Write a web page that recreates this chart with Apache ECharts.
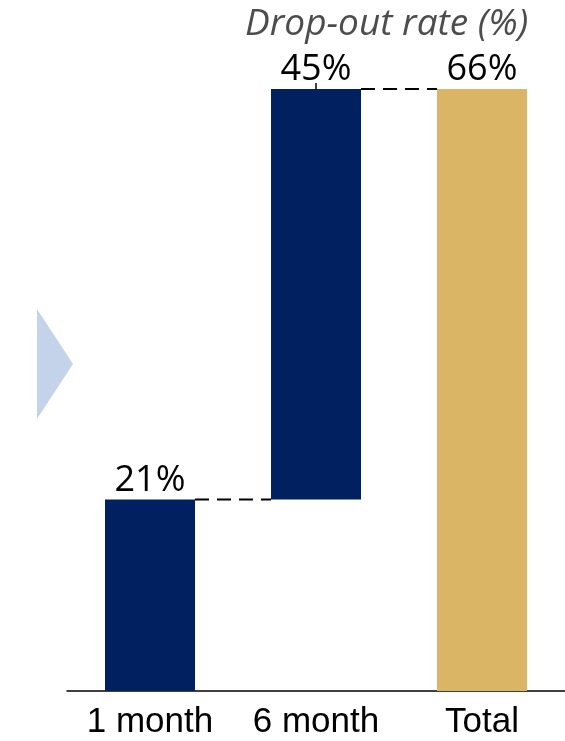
<!DOCTYPE html>
<html lang="en">
<head>
    <meta charset="UTF-8">
    <title>Drop-out rate</title>
    <script src="https://cdn.jsdelivr.net/npm/echarts@6/dist/echarts.min.js"></script>
</head>
<style type="text/css">
    body{
        margin:0;
    }
    #chart{
        width: 565px;
        height: 741px;
    }
</style>
<body>
    <div id="chart"></div>
</body>
<script type="text/javascript">
// waterfall data
var categories = ['1 month', '6 month', 'Total'];
var baseValues = [0, 21, 0];      // invisible offset
var stepValues = [21, 45, 66];    // visible bar height
var labelTexts = ['21%', '45%', '66%'];
var barColors = ['#002060', '#002060', '#dbb566'];
// connector lines: [from category index, level]
var connectors = [[0, 21], [1, 66]];

var BAR_W = 90;
var labelFont = '"Open Sans", "Noto Sans", sans-serif';

var option = {
    animation: false,
    title: {
        text: 'Drop-out rate (%)',
        left: 240,
        top: 1,
        textStyle: {
            fontFamily: labelFont,
            fontStyle: 'italic',
            fontWeight: 'normal',
            fontSize: 37,
            color: '#4d4d4d'
        }
    },
    grid: {
        left: 67,
        right: 0,
        top: 89,
        bottom: 50
    },
    xAxis: {
        type: 'category',
        data: categories,
        axisLine: { lineStyle: { color: '#000', width: 1.5 } },
        axisTick: { show: false },
        axisLabel: {
            color: '#000',
            fontSize: 35,
            fontFamily: '"Liberation Sans", Arial, sans-serif',
            margin: 14,
            interval: 0,
            hideOverlap: false
        }
    },
    yAxis: {
        type: 'value',
        min: 0,
        max: 66,
        show: false,
        splitLine: { show: false }
    },
    graphic: [{
        type: 'polygon',
        shape: { points: [[37, 309], [73, 364], [37, 419]] },
        style: { fill: '#c5d3ea' }
    }],
    series: [
        {
            type: 'bar',
            stack: 'wf',
            barWidth: BAR_W,
            silent: true,
            itemStyle: { color: 'transparent' },
            data: baseValues
        },
        {
            type: 'bar',
            stack: 'wf',
            barWidth: BAR_W,
            data: stepValues.map(function(v, i) {
                return { value: v, itemStyle: { color: barColors[i] } };
            }),
            label: {
                show: true,
                position: 'top',
                distance: 1,
                color: '#000',
                fontSize: 36,
                fontFamily: labelFont,
                formatter: function(p) { return labelTexts[p.dataIndex]; }
            }
        },
        {
            type: 'custom',
            silent: true,
            data: connectors,
            renderItem: function(params, api) {
                var i = api.value(0), v = api.value(1);
                var a = api.coord([i, v]);
                var b = api.coord([i + 1, v]);
                var children = [{
                    type: 'line',
                    shape: { x1: a[0] + BAR_W / 2, y1: a[1], x2: b[0] - BAR_W / 2, y2: b[1] },
                    style: { stroke: '#000', lineWidth: 2, lineDash: [14, 8] }
                }];
                // small tick under the middle label
                if (i === 1) {
                    children.push({
                        type: 'line',
                        shape: { x1: a[0], y1: a[1] - 6, x2: a[0], y2: a[1] + 14 },
                        style: { stroke: '#000', lineWidth: 1.5 }
                    });
                }
                return { type: 'group', children: children };
            }
        }
    ]
};

var myChart = echarts.init(document.getElementById('chart'));
myChart.setOption(option);
</script>
</html>
